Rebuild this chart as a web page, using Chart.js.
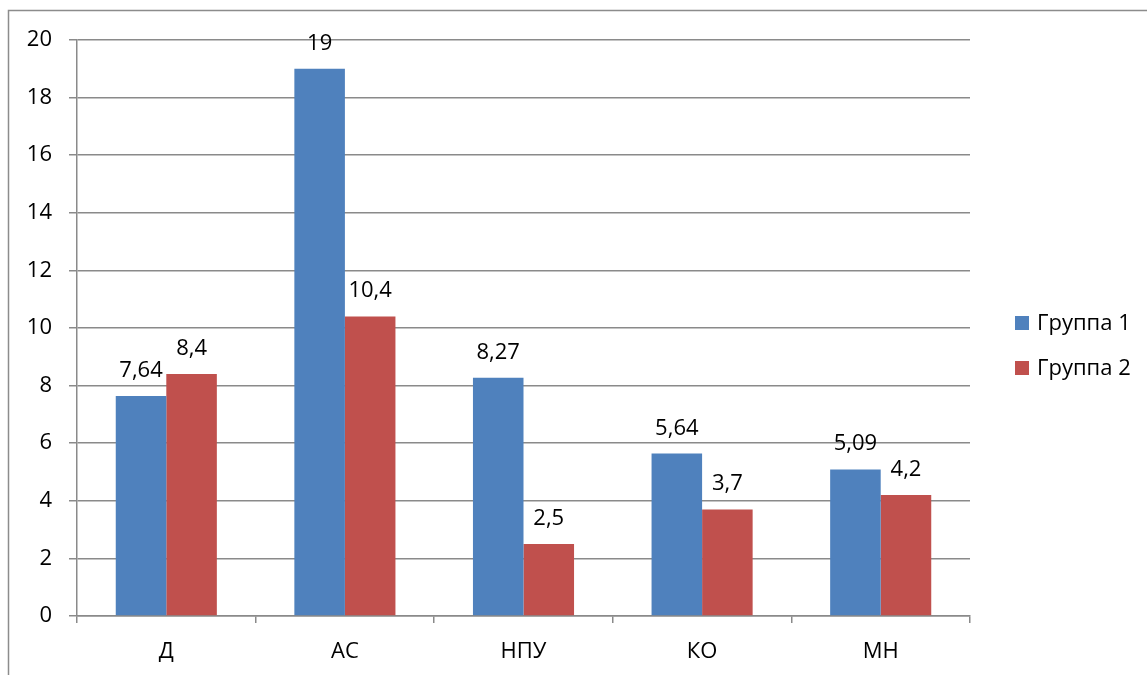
<!DOCTYPE html>
<html>
<head>
<meta charset="utf-8">
<script src="https://cdn.jsdelivr.net/npm/chart.js@4"></script>
<style>
  html, body { margin: 0; padding: 0; background: #fff; }
  #wrap { width: 1147px; height: 675px; position: relative; }
</style>
</head>
<body>
<div id="wrap"><canvas id="c" width="1147" height="675"></canvas></div>
<script>
const categories = ['Д', 'АС', 'НПУ', 'КО', 'МН'];
const group1 = [7.64, 19, 8.27, 5.64, 5.09];
const group2 = [8.4, 10.4, 2.5, 3.7, 4.2];
const seriesNames = ['Группа 1', 'Группа 2'];
const yTicks = [0, 2, 4, 6, 8, 10, 12, 14, 16, 18, 20];

const FONT = '"Open Sans", "Liberation Sans", sans-serif';
const FSIZE = 22;
const GRID = '#8a8a8a';
const BLUE = '#4F81BD';
const RED = '#C0504D';

const fmt = v => String(v).replace('.', ',');

// Outer frame, value labels and the side legend
const extras = {
  id: 'extras',
  beforeDraw(chart) {
    const ctx = chart.ctx;
    ctx.save();
    ctx.strokeStyle = '#8c8c8c';
    ctx.lineWidth = 1.5;
    ctx.beginPath();
    ctx.moveTo(8.5, 675);
    ctx.lineTo(8.5, 10.5);
    ctx.lineTo(1147, 10.5);
    ctx.stroke();
    ctx.restore();
  },
  afterDatasetsDraw(chart) {
    const ctx = chart.ctx;
    ctx.save();
    ctx.fillStyle = '#000';
    ctx.font = FSIZE + 'px ' + FONT;
    ctx.textAlign = 'center';
    ctx.textBaseline = 'alphabetic';
    chart.data.datasets.forEach((ds, di) => {
      chart.getDatasetMeta(di).data.forEach((bar, i) => {
        ctx.fillText(fmt(ds.data[i]), bar.x, bar.y - 19);
      });
    });
    // legend
    const rows = [323, 368];
    chart.data.datasets.forEach((ds, di) => {
      const cy = rows[di];
      ctx.fillStyle = ds.backgroundColor;
      ctx.fillRect(1015, cy - 7, 14, 14);
      ctx.fillStyle = '#000';
      ctx.textAlign = 'left';
      ctx.fillText(ds.label, 1037, cy + 7);
    });
    ctx.restore();
  }
};

new Chart(document.getElementById('c'), {
  type: 'bar',
  data: {
    labels: categories,
    datasets: [
      { label: seriesNames[0], data: group1, backgroundColor: BLUE },
      { label: seriesNames[1], data: group2, backgroundColor: RED }
    ]
  },
  options: {
    responsive: false,
    animation: false,
    devicePixelRatio: 1,
    layout: { padding: { left: 0, top: 40, right: 177, bottom: 0 } },
    datasets: { bar: { categoryPercentage: 0.566, barPercentage: 1.0 } },
    plugins: { legend: { display: false }, tooltip: { enabled: false } },
    scales: {
      x: {
        grid: { display: true, drawOnChartArea: false, drawTicks: true, tickLength: 7, color: GRID, lineWidth: 1.5, offset: true },
        border: { display: true, color: GRID, width: 1.5 },
        ticks: { color: '#000', font: { family: FONT, size: FSIZE }, padding: 16 },
        afterFit(s) { s.height = 59; }
      },
      y: {
        min: 0, max: 20,
        afterBuildTicks(s) { s.ticks = yTicks.map(v => ({ value: v })); },
        grid: { color: GRID, lineWidth: 1.5, drawTicks: true, tickLength: 8 },
        border: { display: true, color: GRID, width: 1.5 },
        ticks: { color: '#000', font: { family: FONT, size: FSIZE }, padding: 17 },
        afterFit(s) { s.width = 77; }
      }
    }
  },
  plugins: [extras]
});
</script>
</body>
</html>
